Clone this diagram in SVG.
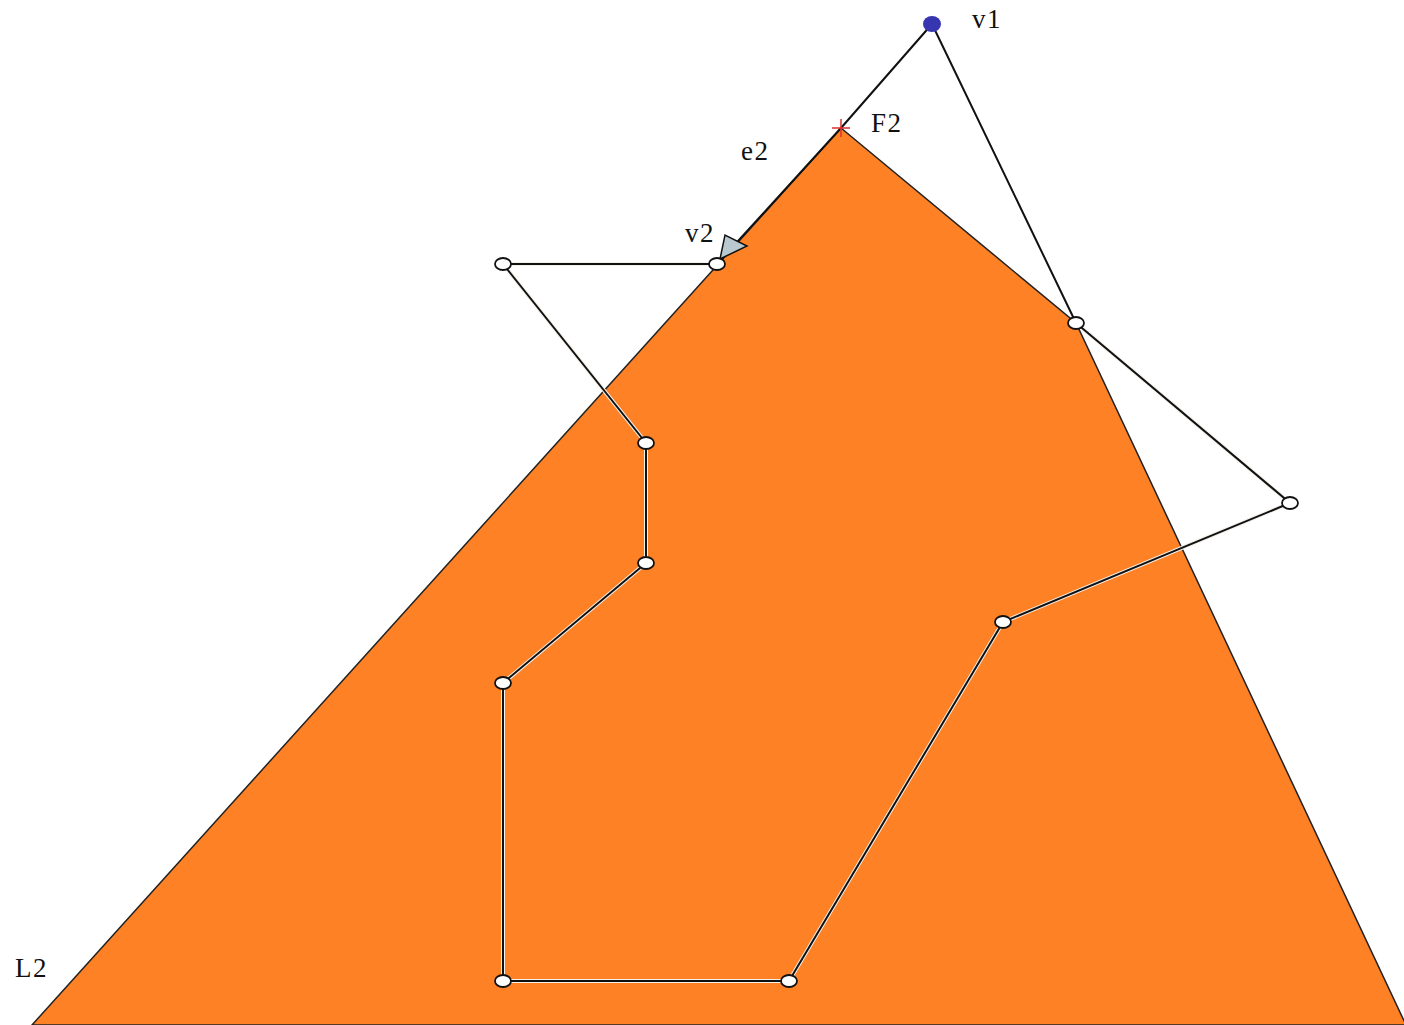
<svg xmlns="http://www.w3.org/2000/svg" width="1404" height="1025" viewBox="0 0 1404 1025">
<style>
.lbl{font-family:"Liberation Serif","Times New Roman",serif;font-size:27px;letter-spacing:1.5px;fill:#111}
.edge{fill:none;stroke:#111;stroke-width:2;stroke-linejoin:round}
.halo{fill:none;stroke:#f4f0ea;stroke-width:4;stroke-linejoin:round}
.vtx{fill:#fff;stroke:#111;stroke-width:1.8}
</style>
<rect width="1404" height="1025" fill="#fff"/>
<g id="region">
<polygon points="841,128 1076,323 1406,1025 32,1025" fill="#fe8126" stroke="#222" stroke-width="1.5"/>
</g>
<g id="connectors">
<polyline class="halo" points="717,264 503,264 646,443 646,563 503,683 503,981 789,981 1003,622 1290,503 1076,323"/>
<polyline class="edge" points="932,24 1076,323 1290,503 1003,622 789,981 503,981 503,683 646,563 646,443 503,264 717,264"/>
<polyline class="edge" points="932,24 841,128 717,264"/>
<polygon points="720,259 725,235 747,246" fill="#b9c9cf" stroke="#111" stroke-width="1.5"/>
</g>
<g id="v1"><ellipse cx="932" cy="24" rx="9" ry="8" fill="#3636b0"/><text class="lbl" x="972" y="28">v1</text></g>
<g id="F2"><path d="M832,128H850M841,119V137" stroke="#e03030" stroke-width="1.5"/><text class="lbl" x="871" y="132">F2</text></g>
<g id="e2"><text class="lbl" x="741" y="160">e2</text></g>
<g id="v2"><text class="lbl" x="685" y="242">v2</text><ellipse class="vtx" cx="717" cy="264" rx="8" ry="6"/></g>
<g id="L2"><text class="lbl" x="15" y="977">L2</text></g>
<g id="n1"><ellipse class="vtx" cx="503" cy="264" rx="8" ry="6"/></g>
<g id="n2"><ellipse class="vtx" cx="1076" cy="323" rx="8" ry="6"/></g>
<g id="n3"><ellipse class="vtx" cx="1290" cy="503" rx="8" ry="6"/></g>
<g id="n4"><ellipse class="vtx" cx="646" cy="443" rx="8" ry="6"/></g>
<g id="n5"><ellipse class="vtx" cx="646" cy="563" rx="8" ry="6"/></g>
<g id="n6"><ellipse class="vtx" cx="503" cy="683" rx="8" ry="6"/></g>
<g id="n7"><ellipse class="vtx" cx="1003" cy="622" rx="8" ry="6"/></g>
<g id="n8"><ellipse class="vtx" cx="503" cy="981" rx="8" ry="6"/></g>
<g id="n9"><ellipse class="vtx" cx="789" cy="981" rx="8" ry="6"/></g>
</svg>
